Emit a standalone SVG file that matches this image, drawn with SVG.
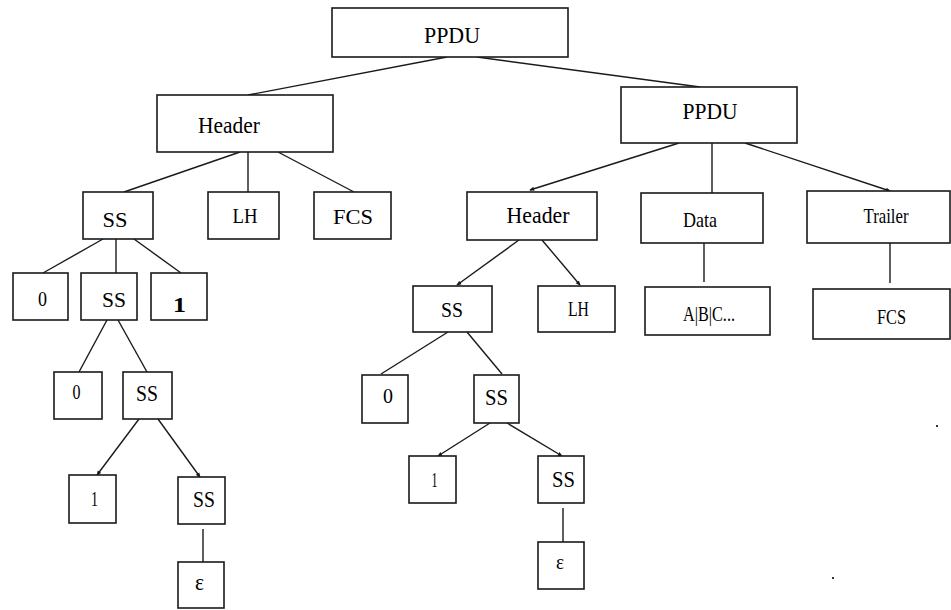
<svg xmlns="http://www.w3.org/2000/svg" width="951" height="610" viewBox="0 0 951 610">
<defs>
<style>
rect.n{fill:#fff;stroke:#1a1a1a;stroke-width:1.6}
text{font-family:"Liberation Serif","Times New Roman",serif;fill:#000;text-anchor:middle}
.big{font-size:23px}
.mid{font-size:22px}
.sm{font-size:21px}
#edges line{stroke:#1a1a1a;stroke-width:1.4}
</style>
<marker id="ah" viewBox="0 0 6 6" refX="5" refY="3" markerWidth="5" markerHeight="5" orient="auto" markerUnits="userSpaceOnUse">
<path d="M0,0.5 L6,3 L0,5.5 z" fill="#1a1a1a"/>
</marker>
</defs>
<rect width="951" height="610" fill="#fff"/>
<g id="edges">
<line x1="447" y1="57" x2="248" y2="95"/>
<line x1="477" y1="57" x2="700" y2="87"/>
<line x1="240" y1="152" x2="124" y2="192"/>
<line x1="248" y1="152" x2="248" y2="192"/>
<line x1="278" y1="152" x2="354" y2="192"/>
<line x1="679" y1="143" x2="530" y2="190" marker-end="url(#ah)"/>
<line x1="712" y1="143" x2="712" y2="193"/>
<line x1="745" y1="143" x2="890" y2="191" marker-end="url(#ah)"/>
<line x1="103" y1="239" x2="43" y2="273"/>
<line x1="116" y1="239" x2="116" y2="273"/>
<line x1="134" y1="239" x2="181" y2="273"/>
<line x1="107" y1="320" x2="79" y2="372"/>
<line x1="118" y1="320" x2="147" y2="372"/>
<line x1="139" y1="419" x2="97" y2="475" marker-end="url(#ah)"/>
<line x1="158" y1="419" x2="200" y2="477" marker-end="url(#ah)"/>
<line x1="203" y1="529" x2="203" y2="562"/>
<line x1="519" y1="240" x2="457" y2="285" marker-end="url(#ah)"/>
<line x1="542" y1="240" x2="580" y2="285" marker-end="url(#ah)"/>
<line x1="704" y1="243" x2="704" y2="282"/>
<line x1="890" y1="243" x2="890" y2="283"/>
<line x1="448" y1="332" x2="381" y2="374"/>
<line x1="467" y1="332" x2="502" y2="374"/>
<line x1="490" y1="423" x2="438" y2="456" marker-end="url(#ah)"/>
<line x1="507" y1="423" x2="562" y2="456" marker-end="url(#ah)"/>
<line x1="563" y1="508" x2="563" y2="542"/>
</g>
<g id="ppdu-root"><rect class="n" x="332" y="8" width="236" height="49"/><text class="big" x="452" y="43" textLength="56" lengthAdjust="spacingAndGlyphs">PPDU</text></g>
<g id="header-left"><rect class="n" x="157" y="95" width="176" height="57"/><text class="big" x="229" y="133" textLength="62" lengthAdjust="spacingAndGlyphs">Header</text></g>
<g id="ppdu-right"><rect class="n" x="621" y="87" width="176" height="56"/><text class="big" x="710" y="119" textLength="55" lengthAdjust="spacingAndGlyphs">PPDU</text></g>
<g id="ss-left"><rect class="n" x="83" y="192" width="70" height="47"/><text class="sm" x="115" y="227" textLength="25" lengthAdjust="spacingAndGlyphs">SS</text></g>
<g id="lh-left"><rect class="n" x="208" y="192" width="71" height="47"/><text class="mid" x="245" y="223" textLength="25" lengthAdjust="spacingAndGlyphs">LH</text></g>
<g id="fcs-left"><rect class="n" x="314" y="192" width="77" height="47"/><text class="mid" x="353" y="224" textLength="40" lengthAdjust="spacingAndGlyphs">FCS</text></g>
<g id="header-right"><rect class="n" x="467" y="192" width="130" height="48"/><text class="big" x="538" y="223" textLength="63" lengthAdjust="spacingAndGlyphs">Header</text></g>
<g id="data"><rect class="n" x="641" y="193" width="122" height="50"/><text class="mid" x="700" y="227" textLength="34" lengthAdjust="spacingAndGlyphs">Data</text></g>
<g id="trailer"><rect class="n" x="807" y="191" width="143" height="52"/><text class="mid" x="886" y="223" textLength="45" lengthAdjust="spacingAndGlyphs">Trailer</text></g>
<g id="l3-zero"><rect class="n" x="13" y="273" width="55" height="47"/><text class="sm" x="42.5" y="306" textLength="9" lengthAdjust="spacingAndGlyphs">0</text></g>
<g id="l3-ss"><rect class="n" x="81" y="273" width="56" height="47"/><text class="mid" x="114" y="307" textLength="24" lengthAdjust="spacingAndGlyphs">SS</text></g>
<g id="l3-one"><rect class="n" x="151" y="273" width="56" height="47"/><text class="sm" x="179.5" y="312" font-weight="bold" textLength="13" lengthAdjust="spacingAndGlyphs">1</text></g>
<g id="l4-zero"><rect class="n" x="54" y="372" width="48" height="47"/><text class="mid" x="76.5" y="399" textLength="8" lengthAdjust="spacingAndGlyphs">0</text></g>
<g id="l4-ss"><rect class="n" x="123" y="372" width="49" height="47"/><text class="big" x="147" y="401" textLength="22" lengthAdjust="spacingAndGlyphs">SS</text></g>
<g id="l5-one"><rect class="n" x="69" y="475" width="47" height="48"/><text class="mid" x="94.5" y="506" textLength="7" lengthAdjust="spacingAndGlyphs">1</text></g>
<g id="l5-ss"><rect class="n" x="178" y="477" width="47" height="47"/><text class="big" x="204" y="507" textLength="22" lengthAdjust="spacingAndGlyphs">SS</text></g>
<g id="l6-eps"><rect class="n" x="178" y="562" width="46" height="46"/><text class="big" x="199.5" y="590" textLength="9" lengthAdjust="spacingAndGlyphs">ε</text></g>
<g id="r-ss"><rect class="n" x="413" y="286" width="79" height="46"/><text class="sm" x="452" y="317" textLength="22" lengthAdjust="spacingAndGlyphs">SS</text></g>
<g id="r-lh"><rect class="n" x="538" y="286" width="77" height="46"/><text class="sm" x="578.5" y="316" textLength="21" lengthAdjust="spacingAndGlyphs">LH</text></g>
<g id="abc"><rect class="n" x="645" y="287" width="125" height="48"/><text class="sm" x="709" y="321" textLength="52" lengthAdjust="spacingAndGlyphs">A|B|C...</text></g>
<g id="fcs-right"><rect class="n" x="813" y="289" width="137" height="50"/><text class="sm" x="891.5" y="324" textLength="29" lengthAdjust="spacingAndGlyphs">FCS</text></g>
<g id="r-zero"><rect class="n" x="362" y="375" width="46" height="48"/><text class="mid" x="388" y="403" textLength="10" lengthAdjust="spacingAndGlyphs">0</text></g>
<g id="r-ss2"><rect class="n" x="474" y="375" width="45" height="48"/><text class="big" x="496.5" y="405" textLength="23" lengthAdjust="spacingAndGlyphs">SS</text></g>
<g id="r-one"><rect class="n" x="409" y="456" width="47" height="47"/><text class="mid" x="434.5" y="487" textLength="6" lengthAdjust="spacingAndGlyphs">1</text></g>
<g id="r-ss3"><rect class="n" x="538" y="456" width="46" height="47"/><text class="big" x="563.5" y="487" textLength="23" lengthAdjust="spacingAndGlyphs">SS</text></g>
<g id="r-eps"><rect class="n" x="538" y="542" width="46" height="47"/><text class="mid" x="560" y="569" textLength="8" lengthAdjust="spacingAndGlyphs">ε</text></g>
<rect x="936" y="425" width="2" height="2" fill="#333"/>
<rect x="832" y="577" width="2" height="2" fill="#333"/>
</svg>
